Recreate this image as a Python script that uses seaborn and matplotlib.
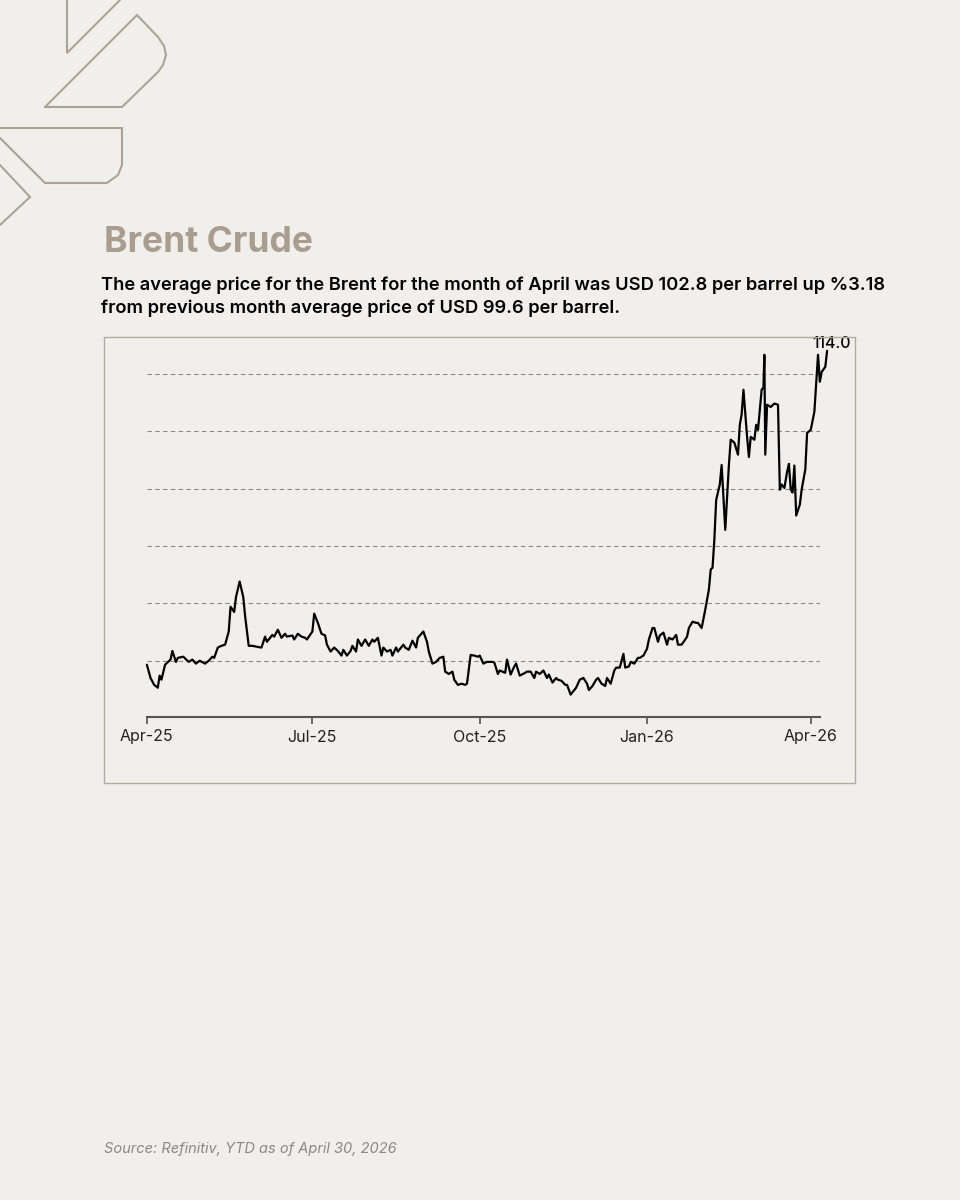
import numpy as np
import pandas as pd
import matplotlib
matplotlib.use("Agg")
import matplotlib.pyplot as plt
import matplotlib.dates as mdates
from matplotlib.patches import Rectangle
from matplotlib.lines import Line2D
import seaborn as sns

# days since 1 Apr 2025
days = [0, 2, 4, 6, 7, 8, 10, 13, 14, 16, 17, 20, 23, 25, 27, 29, 32, 34, 36, 37,
        39, 41, 43, 45, 46, 48, 49, 51, 53, 54, 56, 58, 61, 63, 65, 66, 69, 70, 72, 74,
        76, 77, 80, 81, 83, 85, 87, 88, 91, 92, 94, 96, 98, 99, 101, 103, 105, 107, 108, 110,
        112, 113, 115, 116, 118, 120, 122, 124, 125, 127, 129, 130, 132, 134, 135, 137, 138, 141, 142, 144,
        146, 148, 149, 152, 154, 155, 157, 159, 161, 163, 164, 166, 168, 169, 171, 173, 175, 176, 178, 180,
        182, 183, 185, 187, 190, 191, 193, 194, 197, 198, 200, 202, 203, 205, 208, 209, 211, 213, 214, 216,
        218, 220, 221, 223, 225, 226, 228, 230, 231, 233, 235, 236, 238, 240, 242, 243, 245, 247, 248, 250,
        252, 253, 255, 257, 258, 260, 262, 263, 265, 266, 268, 270, 271, 273, 275, 276, 278, 279, 281, 282,
        284, 286, 287, 289, 291, 292, 294, 296, 297, 298, 300, 302, 303, 305, 307, 309, 310, 311, 312, 313,
        315, 316, 318, 320, 321, 323, 325, 326, 327, 328, 330, 331, 332, 334, 335, 336, 338, 339, 339.5, 340,
        341, 343, 345, 347, 348, 349, 350.5, 352, 353, 354, 355, 356, 357, 359, 360, 362, 363, 365, 367, 369,
        370, 371, 373, 374]
prices = [59.3, 57.0, 55.8, 55.3, 57.4, 56.7, 59.3, 60.2, 61.7, 59.8, 60.5, 60.7, 59.8, 60.2, 59.5, 60.0, 59.5, 60.0, 60.7, 60.5,
          62.3, 62.6, 62.8, 65.1, 69.4, 68.5, 71.1, 73.8, 71.1, 67.8, 62.6, 62.6, 62.4, 62.3, 64.2, 63.3, 64.5, 64.2, 65.4, 64.0,
          64.7, 64.2, 64.4, 63.7, 64.7, 64.2, 64.0, 63.7, 65.1, 68.2, 66.6, 64.7, 64.4, 62.8, 61.6, 62.3, 61.7, 60.9, 61.9, 60.9,
          61.7, 62.6, 61.6, 63.7, 62.6, 63.7, 62.6, 63.7, 63.3, 64.0, 60.9, 62.3, 61.6, 61.9, 60.9, 62.3, 61.6, 62.8, 62.3, 61.9,
          63.5, 62.3, 64.0, 65.1, 63.3, 61.6, 59.5, 59.8, 60.5, 60.7, 58.1, 57.7, 58.1, 56.7, 55.8, 56.0, 55.8, 56.0, 61.0, 60.9,
          60.7, 60.9, 59.5, 59.8, 59.8, 59.7, 57.7, 58.3, 57.9, 60.2, 57.6, 59.0, 59.5, 57.4, 57.9, 58.1, 58.1, 57.0, 58.1, 57.7,
          58.3, 57.0, 57.6, 56.2, 57.0, 56.7, 56.5, 55.8, 55.8, 54.1, 54.9, 55.3, 56.7, 57.0, 56.0, 54.9, 55.6, 56.7, 57.0, 56.0,
          55.6, 57.0, 56.0, 58.3, 58.8, 58.8, 61.2, 58.8, 59.0, 59.8, 59.5, 60.5, 60.5, 60.9, 62.1, 63.7, 65.7, 65.7, 63.3, 64.4,
          64.9, 62.8, 64.0, 63.7, 64.5, 62.8, 62.8, 63.7, 64.2, 65.7, 66.8, 66.6, 66.6, 65.7, 68.9, 72.4, 75.9, 76.2, 81.1, 88.0,
          90.7, 94.1, 82.8, 94.1, 98.5, 98.0, 95.9, 101.1, 102.9, 107.2, 99.0, 95.5, 99.0, 98.5, 101.1, 100.2, 107.2, 107.6, 113.3, 95.9,
          104.6, 104.2, 104.8, 104.6, 89.8, 90.7, 90.1, 92.9, 94.3, 89.8, 89.3, 94.0, 85.3, 87.2, 89.8, 93.3, 99.7, 100.2, 103.4, 113.3,
          108.6, 110.3, 111.2, 114.0]
grid_levels = [60, 70, 80, 90, 100, 110]
tick_dates = ["2025-04-01", "2025-07-01", "2025-10-01", "2026-01-01", "2026-04-01"]

BG = "#f0efeb"
TAUPE = "#a89d8f"

df = pd.DataFrame({
    "date": pd.Timestamp("2025-04-01") + pd.to_timedelta(days, unit="D"),
    "price": prices,
})

sns.set_theme(style="white")
plt.rcParams["font.family"] = ["Inter", "DejaVu Sans"]

fig = plt.figure(figsize=(9.6, 12), dpi=100, facecolor=BG)
ax = fig.add_axes([0.153, 0.4025, 0.701, 0.31])
ax.set_facecolor("none")

sns.lineplot(data=df, x="date", y="price", ax=ax, color="black", linewidth=1.6, clip_on=False)

for g in grid_levels:
    ax.axhline(g, color="#8a8a8a", linestyle=(0, (4, 3)), linewidth=0.8, zorder=0)

ax.set_xlim(pd.Timestamp("2025-04-01"), pd.Timestamp("2025-04-01") + pd.Timedelta(days=370))
ax.set_ylim(50.2, 115)
ax.set_xticks(pd.to_datetime(tick_dates))
ax.xaxis.set_major_formatter(mdates.DateFormatter("%b-%y"))
ax.set_yticks([])
ax.set_xlabel("")
ax.set_ylabel("")
for s in ["top", "right", "left"]:
    ax.spines[s].set_visible(False)
ax.spines["bottom"].set_color("#555555")
ax.spines["bottom"].set_linewidth(1.5)
ax.tick_params(axis="x", bottom=True, length=5, width=1.2, color="#555555",
               labelsize=11.5, labelcolor="#222222", pad=4)

last = df.iloc[-1]
ax.annotate(f"{last['price']:.1f}", (last["date"], last["price"]), xytext=(3, 0),
            textcoords="offset points", ha="center", va="bottom", fontsize=11.5,
            fontweight="medium", color="black", annotation_clip=False)

# chart border
fig.patches.append(Rectangle((104 / 960, 1 - 783 / 1200), 751 / 960, 446 / 1200,
                             transform=fig.transFigure, fill=False, edgecolor="#b3aa9e", linewidth=1))

# titles
fig.text(104 / 960, 1 - 243 / 1200, "Brent Crude", fontsize=25.5, fontweight="bold",
         color=TAUPE, va="center", ha="left")
fig.text(101 / 960, 1 - 285 / 1200,
         "The average price for the Brent for the month of April was USD 102.8 per barrel up %3.18",
         fontsize=13.2, fontweight="semibold", color="black", va="center", ha="left")
fig.text(101 / 960, 1 - 308 / 1200,
         "from previous month average price of USD 99.6 per barrel.",
         fontsize=13.2, fontweight="semibold", color="black", va="center", ha="left")
fig.text(104 / 960, 1 - 1149 / 1200, "Source: Refinitiv, YTD as of April 30, 2026",
         fontsize=10.5, style="italic", color="#888888", va="center", ha="left")

# corner logo outline
shapes = [
    [(67, 0), (67, 53), (120, 0)],
    [(45, 107), (137, 15), (158, 37), (164, 46), (166, 55), (163, 65), (158, 72), (122, 107), (45, 107)],
    [(0, 128), (122, 128), (122, 165), (118, 175), (107, 183), (45, 183), (0, 138)],
    [(0, 165), (30, 197), (0, 225)],
]
for pts in shapes:
    xs = [p[0] / 960 for p in pts]
    ys = [1 - p[1] / 1200 for p in pts]
    fig.lines.append(Line2D(xs, ys, transform=fig.transFigure, color="#ada395",
                            linewidth=1.5, solid_joinstyle="miter"))

fig.savefig("out.png", dpi=100, facecolor=BG)
